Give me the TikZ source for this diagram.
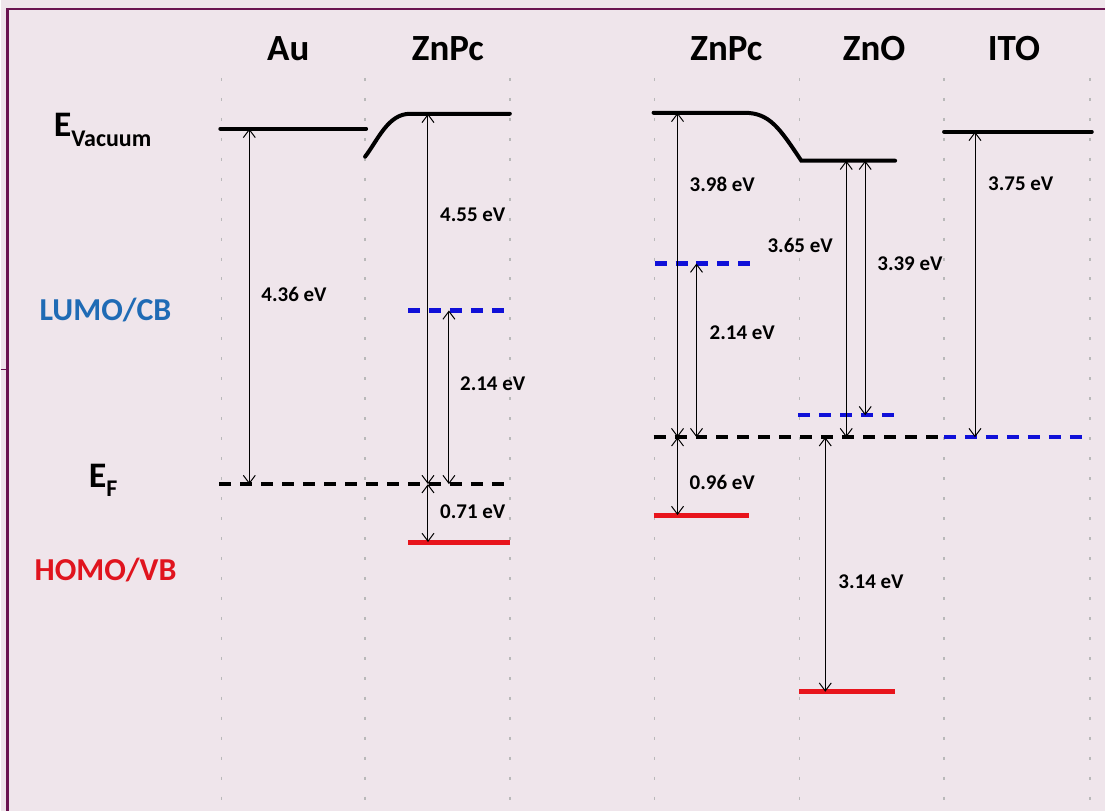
\documentclass[tikz,border=0pt]{standalone}
\usepackage{fontspec}
\setmainfont{Carlito}
\usepackage{xcolor}
\usetikzlibrary{arrows.meta}
\definecolor{bgpink}{HTML}{EFE5EB}
\definecolor{frame}{HTML}{6A1450}
\definecolor{lumotext}{HTML}{1F6BB5}
\definecolor{homotext}{HTML}{E0141E}
\definecolor{lvlblue}{HTML}{1010D8}
\definecolor{lvlred}{HTML}{E8141C}

\begin{document}
\begin{tikzpicture}[
    x=1pt,y=-1pt,
    font=\bfseries,
    guide/.style={gray!55,line width=1.5pt,dash pattern=on 3pt off 17pt},
    vac/.style={line width=4pt,line cap=round},
    fermi/.style={line width=4.5pt,dash pattern=on 12pt off 9pt},
    lumo/.style={lvlblue,line width=4.5pt,dash pattern=on 12pt off 9pt},
    homo/.style={lvlred,line width=5pt},
    arr/.style={{Straight Barb[length=8pt,width=12pt]}-{Straight Barb[length=8pt,width=12pt]},line width=1pt},
    hdr/.style={font=\fontsize{37}{37}\selectfont\bfseries},
    val/.style={anchor=west,inner sep=0pt,font=\fontsize{21}{21}\selectfont\bfseries},
    side/.style={font=\fontsize{32}{32}\selectfont\bfseries},
    ]
    \fill[bgpink] (0,0) rectangle (1106,812);
    \draw[frame,line width=2.5pt] (1106,9) -- (7,9) -- (7,812);
    \draw[frame,line width=1.5pt] (0,370) -- (7,370);

    \draw[guide] (221,78) -- (221,805);
    \draw[guide] (365,78) -- (365,805);
    \draw[guide] (510,78) -- (510,805);
    \draw[guide] (655,78) -- (655,805);
    \draw[guide] (800,78) -- (800,805);
    \draw[guide] (945,78) -- (945,805);
    \draw[guide] (1091,78) -- (1091,805);

    \node[hdr] (au)   at (288,49)  {Au};
    \node[hdr] (pc1)  at (448,49)  {ZnPc};
    \node[hdr] (pc2)  at (727,49)  {ZnPc};
    \node[hdr] (zno)  at (875,49)  {ZnO};
    \node[hdr] (ito)  at (1015,49) {ITO};

    \node[anchor=base west,inner sep=0pt] (evac) at (53,137)
      {\fontsize{36}{36}\selectfont E\fontsize{24}{24}\selectfont\raisebox{-10pt}{Vacuum}};
    \node[side,text=lumotext] (lumo) at (105,311) {LUMO/CB};
    \node[anchor=base west,inner sep=0pt] (ef) at (88,488)
      {\fontsize{36}{36}\selectfont E\fontsize{24}{24}\selectfont\raisebox{-9pt}{F}};
    \node[side,text=homotext] (homo) at (105,571) {HOMO/VB};

    \draw[vac] (220,129) -- (366,129);
    \draw[vac] (365,157) .. controls (378,140) and (388,114) .. (410,114) -- (510,114);
    \draw[vac] (654,113) -- (745,113) .. controls (770,113) and (780,128) .. (802,161) -- (896,161);
    \draw[vac] (945,132) -- (1093,132);

    \draw[fermi] (219,485) -- (508,485);
    \draw[fermi] (654,438) -- (945,438);
    \draw[lumo]  (945,438) -- (1090,438);

    \draw[lumo] (408,311) -- (508,311);
    \draw[lumo] (655,264) -- (752,264);
    \draw[lumo] (799,416) -- (896,416);
    \draw[homo] (408,543) -- (510,543);
    \draw[homo] (654,516) -- (750,516);
    \draw[homo] (800,693) -- (896,693);

    \coordinate (au-v)   at (249,129);
    \coordinate (au-f)   at (249,485);
    \coordinate (pc1-v)  at (428,114);
    \coordinate (pc1-f)  at (428,485);
    \coordinate (pc1-h)  at (428,543);
    \coordinate (pc1-l)  at (449,311);
    \coordinate (pc1-lf) at (449,485);
    \coordinate (pc2-v)  at (678,113);
    \coordinate (pc2-f)  at (678,438);
    \coordinate (pc2-h)  at (678,516);
    \coordinate (pc2-l)  at (697,264);
    \coordinate (pc2-lf) at (697,438);
    \coordinate (zno-v1) at (847,161);
    \coordinate (zno-f1) at (847,438);
    \coordinate (zno-v2) at (866,161);
    \coordinate (zno-c)  at (866,416);
    \coordinate (zno-f2) at (826,438);
    \coordinate (zno-h)  at (826,693);
    \coordinate (ito-v)  at (976,132);
    \coordinate (ito-f)  at (976,438);

    \draw[arr] (au-f) -- (au-v);
    \draw[arr] (pc1-f) -- (pc1-v);
    \draw[arr] (pc1-lf) -- (pc1-l);
    \draw[arr] (pc1-f) -- (pc1-h);
    \draw[arr] (pc2-f) -- (pc2-v);
    \draw[arr] (pc2-lf) -- (pc2-l);
    \draw[arr] (pc2-f) -- (pc2-h);
    \draw[arr] (zno-f1) -- (zno-v1);
    \draw[arr] (zno-c) -- (zno-v2);
    \draw[arr] (zno-f2) -- (zno-h);
    \draw[arr] (ito-f) -- (ito-v);

    \node[val] (v436)  at (261,295) {4.36 eV};
    \node[val] (v455)  at (440,215) {4.55 eV};
    \node[val] (v214a) at (460,384) {2.14 eV};
    \node[val] (v071)  at (440,513) {0.71 eV};
    \node[val] (v398)  at (690,185) {3.98 eV};
    \node[val] (v214b) at (710,333) {2.14 eV};
    \node[val] (v365)  at (768,246) {3.65 eV};
    \node[val] (v339)  at (878,264) {3.39 eV};
    \node[val] (v375)  at (989,184) {3.75 eV};
    \node[val] (v096)  at (690,483) {0.96 eV};
    \node[val] (v314)  at (839,583) {3.14 eV};
  \end{tikzpicture}
\end{document}
